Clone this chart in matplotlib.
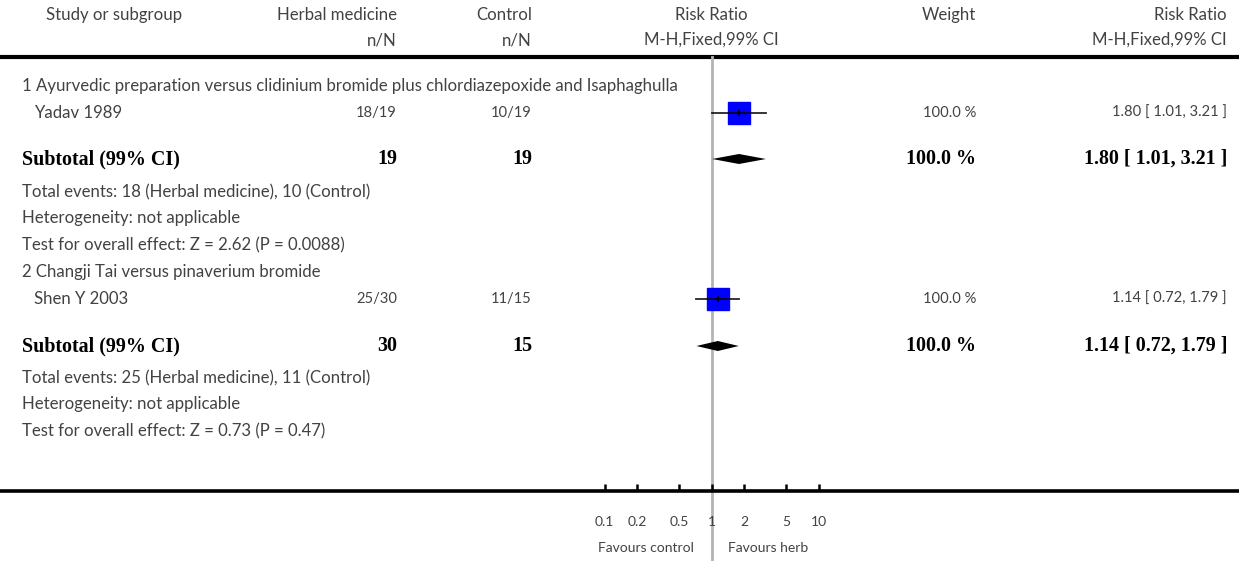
import matplotlib
matplotlib.use("Agg")
import matplotlib.pyplot as plt
import numpy as np

# ---------------- data ----------------
group_titles = ["1 Ayurvedic preparation versus clidinium bromide plus chlordiazepoxide and Isaphaghulla",
                "2 Changji Tai versus pinaverium bromide"]
study_names = ["Yadav 1989", "Shen Y 2003"]
herb_events = [18, 25]
herb_total = [19, 30]
ctrl_events = [10, 11]
ctrl_total = [19, 15]
study_rr = [1.80, 1.14]
study_lo = [1.01, 0.72]
study_hi = [3.21, 1.79]
study_weight = [100.0, 100.0]
sub_rr = [1.80, 1.14]
sub_lo = [1.01, 0.72]
sub_hi = [3.21, 1.79]
sub_weight = [100.0, 100.0]
test_z = ["2.62", "0.73"]
test_p = ["0.0088", "0.47"]
tick_values = [0.1, 0.2, 0.5, 1, 2, 5, 10]
tick_labels = ["0.1", "0.2", "0.5", "1", "2", "5", "10"]

# ---------------- layout (pixels) ----------------
W, H = 1239, 561
fig = plt.figure(figsize=(W / 100, H / 100), dpi=100)
ax = fig.add_axes([0, 0, 1, 1])
ax.set_xlim(0, W)
ax.set_ylim(H, 0)
ax.axis("off")

X0 = 711.7      # pixel of RR = 1
DEC = 107.0     # pixels per decade
fa = fig.add_axes([0, 0, 1, 1], facecolor="none")
fa.set_xscale("log")
fa.set_xlim(10 ** ((0 - X0) / DEC), 10 ** ((W - X0) / DEC))
fa.set_ylim(H, 0)

TXT = "#424242"
reg = dict(family="Lato", fontsize=12.1, color=TXT, va="center")
num = dict(family="Lato", fontsize=10.6, color=TXT, va="center")
bold = dict(family="Liberation Serif", fontsize=14.4, fontweight="bold", color="black", va="center")

x_study = 22
x_herb = 397
x_ctrl = 532
x_weight = 976
x_rr = 1227

# header
y_h1, y_h2, y_line = 15, 40, 57
ax.text(182, y_h1, "Study or subgroup", ha="right", **reg)
ax.text(x_herb, y_h1, "Herbal medicine", ha="right", **reg)
ax.text(x_ctrl, y_h1, "Control", ha="right", **reg)
ax.text(X0, y_h1, "Risk Ratio", ha="center", **reg)
ax.text(x_weight, y_h1, "Weight", ha="right", **reg)
ax.text(x_rr, y_h1, "Risk Ratio", ha="right", **reg)
ax.text(x_herb, y_h2, "n/N", ha="right", **reg)
ax.text(x_ctrl, y_h2, "n/N", ha="right", **reg)
ax.text(X0, y_h2, "M-H,Fixed,99% CI", ha="center", **reg)
ax.text(x_rr, y_h2, "M-H,Fixed,99% CI", ha="right", **reg)
ax.plot([0, W], [y_line, y_line], color="black", lw=3, solid_capstyle="butt")

# null line
fa.plot([1, 1], [y_line, H], color="#b4b4b4", lw=2, zorder=1)

group_rows = [
    dict(title=86, study=113, sub=159, tot=192, het=218, test=245),
    dict(title=272, study=299, sub=346, tot=378, het=404, test=431),
]

for i, r in enumerate(group_rows):
    ax.text(x_study, r["title"], group_titles[i], ha="left", **reg)
    ax.text(34, r["study"], study_names[i], ha="left", **reg)
    ax.text(x_herb, r["study"], f"{herb_events[i]}/{herb_total[i]}", ha="right", **num)
    ax.text(x_ctrl, r["study"], f"{ctrl_events[i]}/{ctrl_total[i]}", ha="right", **num)
    ax.text(x_weight, r["study"], f"{study_weight[i]:.1f} %", ha="right", **num)
    ax.text(x_rr, r["study"], f"{study_rr[i]:.2f} [ {study_lo[i]:.2f}, {study_hi[i]:.2f} ]", ha="right", **num)

    # study marker
    ms = 15.8 * np.sqrt(study_weight[i] / 100.0)
    fa.plot([study_rr[i]], [r["study"]], marker="s", ms=ms, color="#0000ff", mec="#0000ff", zorder=3)
    fa.plot([study_lo[i], study_hi[i]], [r["study"]] * 2, color="black", lw=1.3, zorder=4, alpha=0.85)
    fa.plot([study_rr[i]], [r["study"]], marker="|", ms=4, mew=1.3, color="black", zorder=5)

    # subtotal
    ax.text(x_study, r["sub"], "Subtotal (99% CI)", ha="left", **bold)
    ax.text(x_herb, r["sub"], f"{herb_total[i]}", ha="right", **bold)
    ax.text(x_ctrl, r["sub"], f"{ctrl_total[i]}", ha="right", **bold)
    ax.text(x_weight, r["sub"], f"{sub_weight[i]:.1f} %", ha="right", **bold)
    ax.text(x_rr, r["sub"], f"{sub_rr[i]:.2f} [ {sub_lo[i]:.2f}, {sub_hi[i]:.2f} ]", ha="right", **bold)
    ys = r["sub"]
    fa.fill([sub_lo[i], sub_rr[i], sub_hi[i], sub_rr[i]], [ys, ys - 5, ys, ys + 5],
            color="black", lw=0, zorder=3)

    ax.text(x_study, r["tot"], f"Total events: {herb_events[i]} (Herbal medicine), {ctrl_events[i]} (Control)",
            ha="left", **reg)
    ax.text(x_study, r["het"], "Heterogeneity: not applicable", ha="left", **reg)
    ax.text(x_study, r["test"], f"Test for overall effect: Z = {test_z[i]} (P = {test_p[i]})", ha="left", **reg)

# axis
y_axis = 491
for s in ["top", "left", "right"]:
    fa.spines[s].set_visible(False)
fa.spines["bottom"].set_position(("data", y_axis))
fa.spines["bottom"].set_linewidth(2.6)
fa.set_yticks([])
fa.set_xticks(tick_values)
fa.set_xticklabels(tick_labels)
fa.xaxis.set_minor_locator(matplotlib.ticker.NullLocator())
fa.tick_params(axis="x", direction="in", length=5, width=1.8, pad=18,
               labelsize=10, labelcolor=TXT)
for t in fa.get_xticklabels():
    t.set_family("Lato")

ax.text(X0 - 18, 548, "Favours control", ha="right", family="Lato",
        fontsize=10, color=TXT, va="center")
ax.text(X0 + 16, 548, "Favours herb", ha="left", family="Lato",
        fontsize=10, color=TXT, va="center")

fig.savefig("out.png", dpi=100)
